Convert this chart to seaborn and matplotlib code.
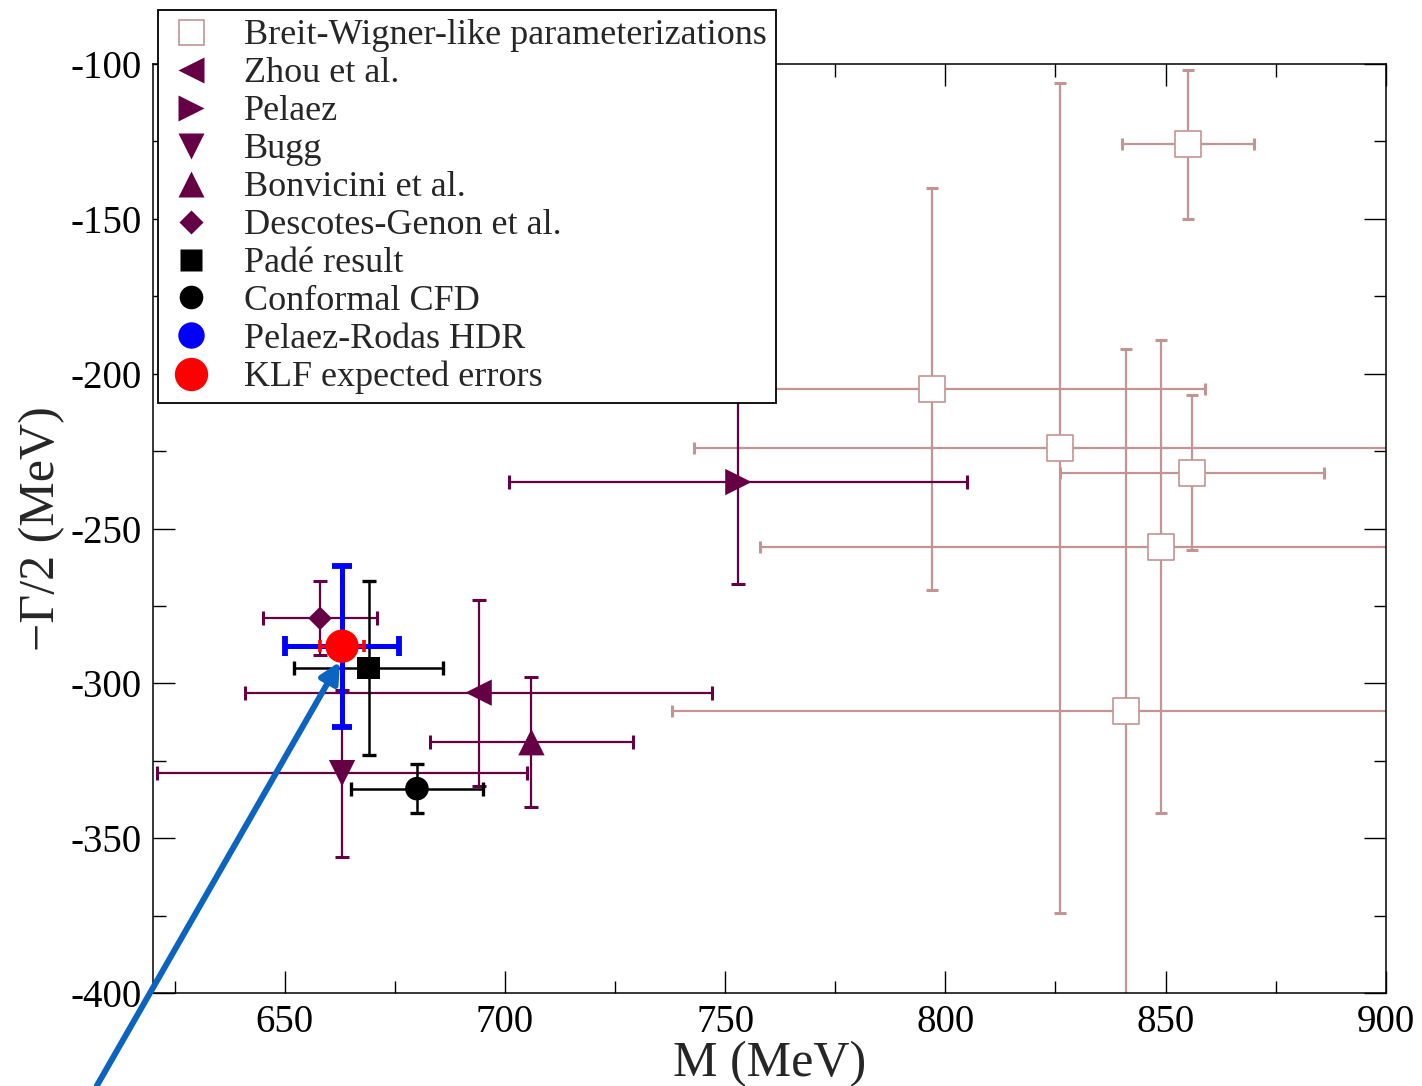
import numpy as np
import pandas as pd
import matplotlib
matplotlib.use("Agg")
import matplotlib.pyplot as plt
from matplotlib.lines import Line2D
from matplotlib.ticker import MultipleLocator
import seaborn as sns

sns.set_style("ticks")
plt.rcParams['font.family'] = ['Liberation Serif', 'DejaVu Serif']
plt.rcParams['axes.unicode_minus'] = False

# Breit-Wigner-like parameterizations (M, -Gamma/2) in MeV
bw_mass = [855, 797, 826, 856, 849, 841]
bw_hw = [-126, -205, -224, -232, -256, -309]
bw_mass_err = [15, 62, 83, 30, 91, 103]
bw_hw_err_up = [24, 65, 118, 25, 67, 117]
bw_hw_err_down = [24, 65, 150, 25, 86, 117]

# pole determinations
pole_labels = ["Zhou et al.", "Pelaez", "Bugg", "Bonvicini et al.", "Descotes-Genon et al.",
               "Padé result", "Conformal CFD", "Pelaez-Rodas HDR", "KLF expected errors"]
pole_mass = [694, 753, 663, 706, 658, 669, 680, 663, 663]
pole_hw = [-303, -235, -329, -319, -279, -295, -334, -288, -288]
pole_mass_err = [53, 52, 42, 23, 13, 17, 15, 13, 5]
pole_hw_err = [30, 33, 27, 21, 12, 28, 8, 26, 3]

bw_label = "Breit-Wigner-like parameterizations"

purple = "#660044"
rosy = "#C49494"
styles = {
    "Zhou et al.":           dict(marker="<", ms=19, color=purple, lw=1.6, cap=5, z=4),
    "Pelaez":                dict(marker=">", ms=19, color=purple, lw=1.6, cap=5, z=4),
    "Bugg":                  dict(marker="v", ms=19, color=purple, lw=1.6, cap=5, z=4),
    "Bonvicini et al.":      dict(marker="^", ms=19, color=purple, lw=1.6, cap=5, z=4),
    "Descotes-Genon et al.": dict(marker="D", ms=12, color=purple, lw=1.6, cap=5, z=4),
    "Padé result":           dict(marker="s", ms=16, color="black", lw=1.8, cap=5, z=5),
    "Conformal CFD":         dict(marker="o", ms=17, color="black", lw=1.8, cap=5, z=5),
    "Pelaez-Rodas HDR":      dict(marker="o", ms=19, color="blue", lw=3.6, cap=7, z=6),
    "KLF expected errors":   dict(marker="o", ms=24, color="red", lw=2.0, cap=4, z=7),
}

poles = pd.DataFrame({"label": pole_labels, "M": pole_mass, "hw": pole_hw,
                      "dM": pole_mass_err, "dhw": pole_hw_err})
bw = pd.DataFrame({"M": bw_mass, "hw": bw_hw, "dM": bw_mass_err,
                   "up": bw_hw_err_up, "down": bw_hw_err_down})

fig = plt.figure(figsize=(14.22, 10.86), dpi=100)
ax = fig.add_axes([0.1074, 0.0856, 0.8671, 0.8555])

# BW points
ax.errorbar(bw["M"], bw["hw"], xerr=bw["dM"], yerr=[bw["down"], bw["up"]],
            fmt="none", ecolor=rosy, elinewidth=1.6, capsize=4.5, capthick=2.2, zorder=2)
sns.scatterplot(data=bw, x="M", y="hw", marker="s", s=18.5**2, color="white",
                edgecolor=rosy, linewidth=1.2, ax=ax, zorder=3, legend=False)

# pole points
for _, r in poles.iterrows():
    st = styles[r["label"]]
    ax.errorbar([r["M"]], [r["hw"]], xerr=[r["dM"]], yerr=[r["dhw"]], fmt="none",
                ecolor=st["color"], elinewidth=st["lw"], capsize=st["cap"],
                capthick=st["lw"] + 0.6, zorder=st["z"])
    sns.scatterplot(x=[r["M"]], y=[r["hw"]], marker=st["marker"], s=st["ms"]**2,
                    color=st["color"], edgecolor="none", ax=ax, zorder=st["z"] + 0.5,
                    legend=False)

ax.set_xlim(620, 900)
ax.set_ylim(-400, -100)
ax.xaxis.set_major_locator(MultipleLocator(50))
ax.xaxis.set_minor_locator(MultipleLocator(25))
ax.yaxis.set_major_locator(MultipleLocator(50))
ax.yaxis.set_minor_locator(MultipleLocator(25))
ax.tick_params(which="both", direction="in", top=True, right=True, width=1.0,
               labelsize=28, colors="black")
ax.tick_params(which="major", length=16, pad=8)
ax.tick_params(which="minor", length=9)
for sp in ax.spines.values():
    sp.set_linewidth(1.1)
    sp.set_color("black")

ax.set_xlabel("M (MeV)", fontsize=36, labelpad=0)
ax.set_ylabel("\u2212\u0393/2 (MeV)", fontsize=36, labelpad=4)

# legend
handles = [Line2D([], [], ls="none", marker="s", ms=18, mfc="white", mec=rosy, mew=1.2)]
for lab in pole_labels:
    st = styles[lab]
    handles.append(Line2D([], [], ls="none", marker=st["marker"], ms=st["ms"],
                          mfc=st["color"], mec="none"))
leg = ax.legend(handles, [bw_label] + pole_labels, loc="upper left",
                bbox_to_anchor=(158 / 1422, 1 - 10 / 1086), bbox_transform=fig.transFigure,
                borderaxespad=0, fontsize=26, labelspacing=0.13, handlelength=1.3,
                handletextpad=0.83, borderpad=0.25, fancybox=False, framealpha=1,
                edgecolor="black")
leg.get_frame().set_linewidth(1.3)
leg.set_zorder(10)

# arrow pointing at the KLF point
ax.annotate("", xy=(662.5, -293), xycoords="data", xytext=(0.068, 0.0),
            textcoords="figure fraction", annotation_clip=False, zorder=8,
            arrowprops=dict(arrowstyle="-|>", color="#0A64C0", lw=4.3,
                            mutation_scale=30, shrinkA=0, shrinkB=0))

fig.savefig("out.png", dpi=100)
